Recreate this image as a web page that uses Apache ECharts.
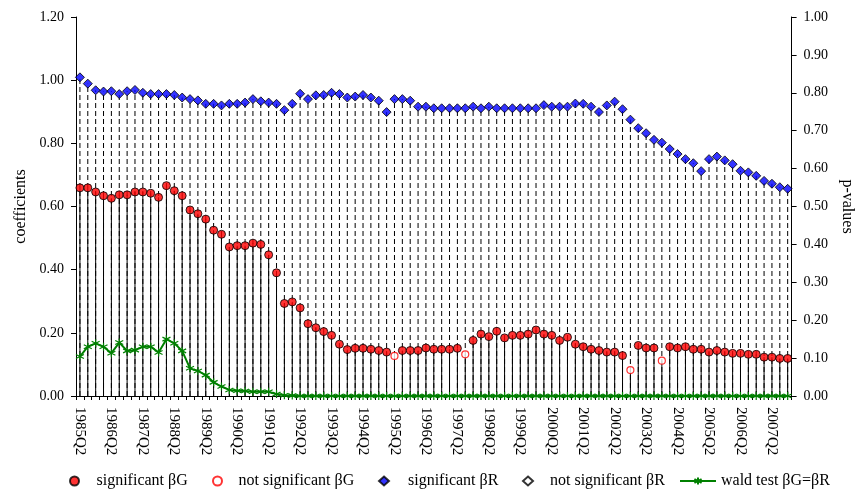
<!DOCTYPE html>
<html>
<head>
<meta charset="utf-8">
<script src="https://cdn.jsdelivr.net/npm/echarts@6/dist/echarts.min.js"></script>
<style>
html,body{margin:0;padding:0;background:#fff;}
#chart{width:863px;height:493px;}
</style>
</head>
<body>
<div id="chart"></div>
<script>
const quarters = [
 '1985Q2','1985Q3','1985Q4',
 '1986Q1','1986Q2','1986Q3','1986Q4','1987Q1','1987Q2','1987Q3','1987Q4',
 '1988Q1','1988Q2','1988Q3','1988Q4','1989Q1','1989Q2','1989Q3','1989Q4',
 '1990Q1','1990Q2','1990Q3','1990Q4','1991Q1','1991Q2','1991Q3','1991Q4',
 '1992Q1','1992Q2','1992Q3','1992Q4','1993Q1','1993Q2','1993Q3','1993Q4',
 '1994Q1','1994Q2','1994Q3','1994Q4','1995Q1','1995Q2','1995Q3','1995Q4',
 '1996Q1','1996Q2','1996Q3','1996Q4','1997Q1','1997Q2','1997Q3','1997Q4',
 '1998Q1','1998Q2','1998Q3','1998Q4','1999Q1','1999Q2','1999Q3','1999Q4',
 '2000Q1','2000Q2','2000Q3','2000Q4','2001Q1','2001Q2','2001Q3','2001Q4',
 '2002Q1','2002Q2','2002Q3','2002Q4','2003Q1','2003Q2','2003Q3','2003Q4',
 '2004Q1','2004Q2','2004Q3','2004Q4','2005Q1','2005Q2','2005Q3','2005Q4',
 '2006Q1','2006Q2','2006Q3','2006Q4','2007Q1','2007Q2','2007Q3','2007Q4'
];

// significant beta R (coefficients)
const betaRSig = [
 1.009,0.989,0.968,0.964,0.965,0.956,0.965,0.969,0.960,0.956,
 0.956,0.956,0.953,0.945,0.940,0.936,0.925,0.925,0.920,0.925,
 0.925,0.929,0.940,0.933,0.929,0.925,0.905,0.925,0.957,0.940,
 0.952,0.953,0.960,0.956,0.945,0.948,0.953,0.945,0.935,0.899,
 0.940,0.940,0.935,0.916,0.916,0.911,0.911,0.911,0.911,0.911,
 0.916,0.911,0.916,0.911,0.911,0.911,0.911,0.911,0.911,0.921,
 0.916,0.916,0.916,0.926,0.925,0.916,0.899,0.920,0.932,0.908,
 0.875,0.848,0.832,0.811,0.802,0.782,0.766,0.750,0.737,0.712,
 0.750,0.758,0.746,0.734,0.713,0.708,0.697,0.681,0.672,0.661,
 0.656
];
// not significant beta R (none in this sample)
const betaRNotSig = [];

// significant beta G (null where not significant)
const betaGSig = [
 0.659,0.659,0.646,0.634,0.626,0.637,0.637,0.646,0.646,0.642,
 0.629,0.666,0.650,0.634,0.589,0.577,0.560,0.525,0.512,0.472,
 0.476,0.476,0.484,0.480,0.447,0.390,0.293,0.298,0.279,0.229,
 0.216,0.204,0.192,0.164,0.147,0.151,0.151,0.148,0.144,0.139,
 null,0.144,0.144,0.144,0.152,0.148,0.148,0.148,0.151,null,
 0.176,0.196,0.188,0.205,0.184,0.192,0.192,0.196,0.209,0.196,
 0.192,0.176,0.186,0.164,0.156,0.148,0.144,0.139,0.139,0.128,
 null,0.160,0.152,0.152,null,0.156,0.152,0.156,0.148,0.148,
 0.139,0.144,0.139,0.135,0.135,0.132,0.132,0.123,0.123,0.119,
 0.119
];
// not significant beta G (null where significant)
const betaGNotSig = [
 null,null,null,null,null,null,null,null,null,null,
 null,null,null,null,null,null,null,null,null,null,
 null,null,null,null,null,null,null,null,null,null,
 null,null,null,null,null,null,null,null,null,null,
 0.127,null,null,null,null,null,null,null,null,0.132,
 null,null,null,null,null,null,null,null,null,null,
 null,null,null,null,null,null,null,null,null,null,
 0.082,null,null,null,0.112,null,null,null,null,null,
 null,null,null,null,null,null,null,null,null,null,
 null
];
// wald test p-values (beta G = beta R)
const waldP = [
 0.104,0.130,0.139,0.130,0.113,0.141,0.119,0.121,0.130,0.130,
 0.115,0.150,0.139,0.119,0.073,0.066,0.055,0.036,0.025,0.016,
 0.014,0.013,0.011,0.011,0.011,0.005,0.002,0.001,0,0,
 0,0,0,0,0,0,0,0,0,0,
 0,0,0,0,0,0,0,0,0,0,
 0,0,0,0,0,0,0,0,0,0,
 0,0,0,0,0,0,0,0,0,0,
 0,0,0,0,0,0,0,0,0,0,
 0,0,0,0,0,0,0,0,0,0,
 0
];
const coefTicks = {min:0, max:1.2, interval:0.2};
const pTicks = {min:0, max:1.0, interval:0.1};

const FONT = 'Liberation Serif';
const dropData = quarters.map((q, i) => [
  i,
  betaRSig[i] != null ? betaRSig[i] : (betaRNotSig[i] != null ? betaRNotSig[i] : 0),
  betaGSig[i] != null ? betaGSig[i] : (betaGNotSig[i] != null ? betaGNotSig[i] : 0)
]);

const chart = echarts.init(document.getElementById('chart'), null, {renderer:'canvas'});
const asterisk = 'path://M5,0L5,10M0.67,2.5L9.33,7.5M0.67,7.5L9.33,2.5';
const legendText = {fontFamily: FONT, fontSize: 16, color: '#000'};
function lg(name, left, w, pad){
  return {
    data:[name], left: left, top: 473, padding: 0, itemWidth: w, itemHeight: 9,
    textStyle: Object.assign({padding:[0,0,0,pad]}, legendText), selectedMode:false
  };
}
chart.setOption({
  animation:false,
  backgroundColor:'#fff',
  grid:{left:76, right:68, top:17, bottom:97, containLabel:false},
  legend:[
    lg('significant βG', 69, 10, 12),
    lg('not significant βG', 212, 10, 11),
    lg('significant βR', 378, 10, 14),
    lg('not significant βR', 522, 10, 12),
    lg('wald test βG=βR', 679, 36, 0)
  ],
  xAxis:{
    type:'category', data:quarters, boundaryGap:true,
    axisLine:{lineStyle:{color:'#000', width:1}},
    axisTick:{show:true, interval:0, length:4, alignWithLabel:false, lineStyle:{color:'#000'}},
    axisLabel:{interval:3, rotate:-90, margin:11, fontFamily:FONT, fontSize:15, color:'#000'},
    splitLine:{show:false}
  },
  yAxis:[
    {type:'value', min:coefTicks.min, max:coefTicks.max, interval:coefTicks.interval,
     name:'coefficients', nameLocation:'middle', nameRotate:90, nameGap:42,
     nameTextStyle:{fontFamily:FONT, fontSize:16, color:'#000'},
     axisLine:{show:true, lineStyle:{color:'#000'}},
     axisTick:{show:true, length:5, lineStyle:{color:'#000'}},
     axisLabel:{margin:12, fontFamily:FONT, fontSize:14, color:'#000', formatter:v=>v.toFixed(2)},
     splitLine:{show:false}},
    {type:'value', min:pTicks.min, max:pTicks.max, interval:pTicks.interval, position:'right',
     name:'p-values', nameLocation:'middle', nameRotate:-90, nameGap:43,
     nameTextStyle:{fontFamily:FONT, fontSize:16, color:'#000'},
     axisLine:{show:true, lineStyle:{color:'#000'}},
     axisTick:{show:true, length:5, lineStyle:{color:'#000'}},
     axisLabel:{margin:12, fontFamily:FONT, fontSize:14, color:'#000', formatter:v=>v.toFixed(2)},
     splitLine:{show:false}}
  ],
  series:[
    {
      type:'custom', name:'drops', yAxisIndex:0, z:1, silent:true,
      data:dropData, encode:{x:0, y:[1,2]},
      renderItem:function(params, api){
        const x = api.value(0), r = api.value(1), g = api.value(2);
        const p0 = api.coord([x, 0]);
        const pr = api.coord([x, r]);
        const pg = api.coord([x, g]);
        return {type:'group', children:[
          {type:'line', shape:{x1:p0[0], y1:p0[1], x2:pr[0], y2:pr[1]},
           style:{stroke:'#000', lineWidth:1, lineDash:[5,3]}},
          {type:'line', shape:{x1:p0[0], y1:p0[1], x2:pg[0], y2:pg[1]},
           style:{stroke:'#000', lineWidth:1}}
        ]};
      }
    },
    {
      type:'line', name:'wald test βG=βR', yAxisIndex:1, data:waldP, z:3,
      symbol:asterisk, symbolSize:8, showSymbol:true, showAllSymbol:true,
      lineStyle:{color:'#008000', width:2},
      itemStyle:{color:'#008000', borderColor:'#008000', borderWidth:1.2}
    },
    {
      type:'scatter', name:'significant βG', yAxisIndex:0, data:betaGSig, z:4,
      symbol:'circle', symbolSize:8,
      itemStyle:{color:'#ff0000', borderColor:'#000', borderWidth:1}
    },
    {
      type:'scatter', name:'not significant βG', yAxisIndex:0, data:betaGNotSig, z:4,
      symbol:'circle', symbolSize:7,
      itemStyle:{color:'#fff', borderColor:'#ff0000', borderWidth:1.2}
    },
    {
      type:'scatter', name:'significant βR', yAxisIndex:0, data:betaRSig, z:4,
      symbol:'diamond', symbolSize:9,
      itemStyle:{color:'#0000ff', borderColor:'#000', borderWidth:1}
    },
    {
      type:'scatter', name:'not significant βR', yAxisIndex:0, data:betaRNotSig, z:4,
      symbol:'diamond', symbolSize:9,
      itemStyle:{color:'#fff', borderColor:'#000', borderWidth:1}
    }
  ]
});
</script>
</body>
</html>
